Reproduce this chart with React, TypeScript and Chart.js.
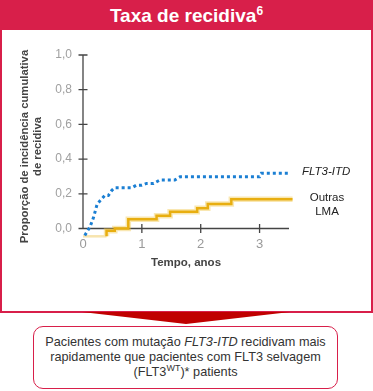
import React, { useEffect, useRef } from "react";
import { Chart, registerables } from "chart.js";

Chart.register(...registerables);

const FONT = '"Liberation Sans", Arial, Helvetica, sans-serif';

// Tick values
const xTickValues = [0, 1, 2, 3];
const yTickValues = [0, 0.2, 0.4, 0.6, 0.8, 1.0];
const yTitleLines = ["Proporção de incidência cumulativa", "de recidiva"];

// FLT3-ITD cumulative incidence (years, proportion)
const flt3ItdX = [0.03, 0.12, 0.175, 0.2, 0.24, 0.29, 0.37, 0.43, 0.49, 0.54, 0.83, 0.91, 1.0, 1.08, 1.2, 1.31, 1.56, 1.65, 3.0, 3.03, 3.53];
const flt3ItdY = [-0.04, 0.01, 0.06, 0.09, 0.14, 0.16, 0.19, 0.19, 0.22, 0.235, 0.235, 0.25, 0.25, 0.26, 0.26, 0.28, 0.28, 0.298, 0.298, 0.318, 0.318];

// Outras LMA cumulative incidence (step function)
const outrasX = [0, 0.4, 0.4, 0.54, 0.77, 1.25, 1.48, 1.94, 2.12, 2.52, 3.56];
const outrasY = [-0.045, -0.045, -0.013, 0.0, 0.053, 0.074, 0.097, 0.116, 0.141, 0.168, 0.168];

const RED = "#D81F4A";

function ChartCanvas() {
  const ref = useRef<HTMLCanvasElement | null>(null);

  useEffect(() => {
    if (!ref.current) return;
    const flt3Data = flt3ItdX.map((x, i) => ({ x, y: flt3ItdY[i] }));
    const outrasData = outrasX.map((x, i) => ({ x, y: outrasY[i] }));

    const axesPlugin = {
      id: "customAxes",
      beforeDatasetsDraw(chart: any) {
        const { ctx, scales } = chart;
        const xs = scales.x;
        const ys = scales.y;
        const x0 = xs.getPixelForValue(0);
        const y0 = ys.getPixelForValue(0);
        ctx.save();
        ctx.strokeStyle = "#444";
        ctx.lineWidth = 1.3;
        ctx.beginPath();
        ctx.moveTo(x0, ys.getPixelForValue(1));
        ctx.lineTo(x0, y0);
        ctx.moveTo(x0 - 2, y0);
        ctx.lineTo(xs.getPixelForValue(3.5), y0);
        yTickValues.forEach((v) => {
          const py = ys.getPixelForValue(v);
          ctx.moveTo(x0 - 4.5, py);
          ctx.lineTo(x0 + 4.5, py);
        });
        xTickValues.forEach((v) => {
          if (v === 0) return;
          const px = xs.getPixelForValue(v);
          ctx.moveTo(px, y0 - 4.5);
          ctx.lineTo(px, y0 + 4.5);
        });
        ctx.stroke();
        ctx.restore();
      },
      afterDraw(chart: any) {
        const { ctx } = chart;
        ctx.save();
        // y-axis title
        ctx.fillStyle = "#444";
        ctx.font = `bold 11.3px ${FONT}`;
        ctx.textAlign = "center";
        ctx.textBaseline = "middle";
        yTitleLines.forEach((line, i) => {
          ctx.save();
          ctx.translate(25 + i * 13, 116.5);
          ctx.rotate(-Math.PI / 2);
          ctx.fillText(line, 0, 0);
          ctx.restore();
        });
        // series labels
        ctx.fillStyle = "#222";
        ctx.textAlign = "left";
        ctx.font = `italic 11.5px ${FONT}`;
        ctx.fillText("FLT3-ITD", 302, 142);
        ctx.textAlign = "center";
        ctx.font = `11.5px ${FONT}`;
        ctx.fillText("Outras", 327, 168);
        ctx.fillText("LMA", 327, 182);
        ctx.restore();
      },
    };

    const chart = new Chart(ref.current, {
      type: "line",
      data: {
        datasets: [
          {
            label: "FLT3-ITD",
            data: flt3Data,
            borderColor: "#1B7FD3",
            borderWidth: 3,
            borderDash: [3, 3],
            pointRadius: 0,
            fill: false,
            tension: 0,
            clip: false as any,
          },
          {
            label: "Outras LMA",
            data: outrasData,
            borderColor: "#E8AE10",
            borderWidth: 2.5,
            stepped: true,
            pointRadius: 0,
            fill: false,
            clip: false as any,
            segment: {
              borderColor: (c: any) => (c.p0DataIndex === 0 ? "#F7E4AE" : undefined),
            },
          },
          {
            label: "Outras LMA halo",
            data: outrasData,
            borderColor: "rgba(240,196,60,0.4)",
            borderWidth: 5.5,
            stepped: true,
            pointRadius: 0,
            fill: false,
            clip: false as any,
            segment: {
              borderColor: (c: any) => (c.p0DataIndex === 0 ? "rgba(0,0,0,0)" : undefined),
            },
          },
        ],
      },
      options: {
        animation: false,
        responsive: false,
        maintainAspectRatio: false,
        layout: { padding: { left: 0, right: 84, top: 25, bottom: 42.5 } },
        plugins: { legend: { display: false }, tooltip: { enabled: false } },
        scales: {
          x: {
            type: "linear",
            min: 0,
            max: 3.5,
            afterFit: (s: any) => {
              s.height = 41;
            },
            grid: { display: false, drawTicks: false },
            border: { display: false },
            ticks: {
              stepSize: 1,
              includeBounds: false,
              color: "#9a9a9a",
              font: { family: FONT, size: 13 },
              padding: 8,
              callback: (v: any) => String(v),
            },
            title: {
              display: true,
              text: "Tempo, anos",
              color: "#444",
              font: { family: FONT, size: 11.5, weight: "bold" },
              padding: 0,
            },
          },
          y: {
            type: "linear",
            min: 0,
            max: 1,
            afterFit: (s: any) => {
              s.width = 83;
            },
            grid: { display: false, drawTicks: false },
            border: { display: false },
            ticks: {
              stepSize: 0.2,
              color: "#a0a0a0",
              font: { family: FONT, size: 12 },
              padding: 11,
              callback: (v: any) => Number(v).toFixed(1).replace(".", ","),
            },
            title: { display: false },
          },
        },
      } as any,
      plugins: [axesPlugin],
    });
    return () => chart.destroy();
  }, []);

  return (
    <canvas
      ref={ref}
      width={373}
      height={282}
      style={{ position: "absolute", left: 0, top: 30, width: 373, height: 282 }}
    />
  );
}

export default function App() {
  return (
    <div
      style={{
        position: "absolute",
        left: 0,
        top: 0,
        width: 373,
        height: 391,
        background: "#fff",
        fontFamily: FONT,
        overflow: "hidden",
      }}
    >
      <div
        style={{
          position: "absolute",
          left: 0,
          top: 0,
          width: 373,
          height: 313,
          border: `2px solid ${RED}`,
          boxSizing: "border-box",
        }}
      />
      <div
        style={{
          position: "absolute",
          left: 0,
          top: 0,
          width: 373,
          height: 30,
          background: RED,
          color: "#fff",
          fontWeight: "bold",
          fontSize: 19,
          lineHeight: "31px",
          textAlign: "center",
        }}
      >
        Taxa de recidiva
        <span style={{ fontSize: 12, position: "relative", top: -7 }}>6</span>
      </div>
      <ChartCanvas />
      <svg
        width={373}
        height={20}
        style={{ position: "absolute", left: 0, top: 312 }}
      >
        <polygon points="82,0 290,0 186,12" fill="#C00000" />
      </svg>
      <div
        style={{
          position: "absolute",
          left: 33,
          top: 326,
          width: 305,
          height: 63,
          border: `1px solid ${RED}`,
          borderRadius: 10,
          boxSizing: "border-box",
          textAlign: "center",
          fontSize: 12.7,
          lineHeight: "15px",
          color: "#333",
          paddingTop: 8,
        }}
      >
        Pacientes com mutação <i>FLT3-ITD</i> recidivam mais
        <br />
        rapidamente que pacientes com FLT3 selvagem
        <br />
        (FLT3<span style={{ fontSize: 9, position: "relative", top: -5 }}>WT</span>)* patients
      </div>
    </div>
  );
}
